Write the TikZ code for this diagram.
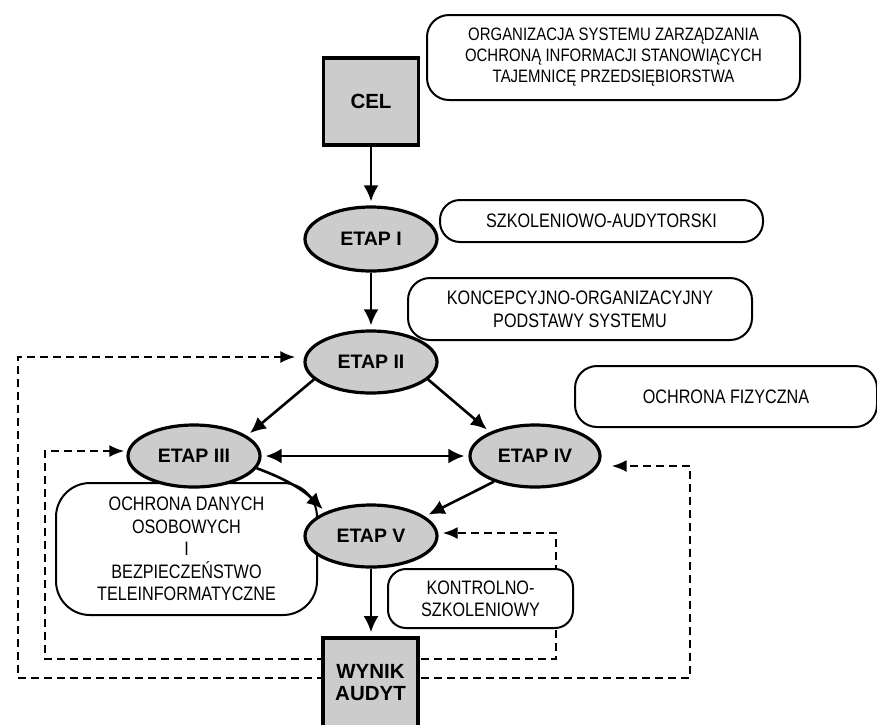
\documentclass[tikz,border=0pt]{standalone}
\usepackage{fontspec}
\setmainfont{Liberation Sans}
\newfontfamily\narrowfont{Liberation Sans}[FakeStretch=0.83]
\usetikzlibrary{shapes.geometric,arrows.meta,backgrounds}

\begin{document}
\begin{tikzpicture}[x=1pt,y=-1pt,
  stage/.style={ellipse,draw,line width=3.2pt,fill=gray!40,minimum width=132pt,
    minimum height=62pt,inner sep=0pt,font=\fontsize{19.5}{20}\selectfont\bfseries},
  endbox/.style={rectangle,draw,line width=3.6pt,fill=gray!40,minimum width=95pt,
    inner sep=0pt,align=center,font=\fontsize{20.5}{22}\selectfont\bfseries},
  note/.style={rectangle,draw,line width=2pt,fill=white,rounded corners=22pt,
    inner sep=0pt,align=center,font=\narrowfont\fontsize{19.5}{23}\selectfont},
  flow/.style={line width=2.6pt,shorten >=4pt,-{Latex[length=16pt,width=15pt]}},
  loop/.style={line width=2.4pt,dash pattern=on 8pt off 5pt,
    {Latex[length=15pt,width=12pt]}-{Latex[length=15pt,width=12pt]}}]

\useasboundingbox (0,0) rectangle (877,724);

% ===================== goal and result =====================
\node[endbox,minimum height=87pt] (cel) at (371,101.5) {CEL};
\node[endbox,minimum height=90pt] (wynik) at (370.5,683) {WYNIK\\AUDYT};

% ===================== descriptions =====================
\node[note,minimum width=373pt,minimum height=85pt,
  font=\narrowfont\fontsize{18}{21}\selectfont] (goal) at (613.5,57.5)
  {ORGANIZACJA SYSTEMU ZARZĄDZANIA\\OCHRONĄ INFORMACJI STANOWIĄCYCH\\TAJEMNICĘ PRZEDSIĘBIORSTWA};
\node[note,minimum width=323pt,minimum height=42pt,rounded corners=20pt] (szkol) at (601.5,221)
  {SZKOLENIOWO-AUDYTORSKI};
\node[note,minimum width=344pt,minimum height=62pt] (koncep) at (580,309)
  {KONCEPCYJNO-ORGANIZACYJNY\\PODSTAWY SYSTEMU};
\node[note,minimum width=302pt,minimum height=61pt] (fizyczna) at (726,396.5)
  {OCHRONA FIZYCZNA};
\node[note,minimum width=261pt,minimum height=132pt,rounded corners=34pt,
  font=\narrowfont\fontsize{19.5}{22.5}\selectfont] (danych) at (186.5,549)
  {OCHRONA DANYCH\\OSOBOWYCH\\I\\BEZPIECZEŃSTWO\\TELEINFORMATYCZNE};
\node[note,minimum width=185pt,minimum height=59pt,rounded corners=18pt,
  font=\narrowfont\fontsize{19.5}{22}\selectfont] (kontrol) at (480.5,598.5)
  {KONTROLNO-\\SZKOLENIOWY};

% ===================== stages =====================
\node[stage,minimum height=64pt] (etap1) at (371,239) {ETAP I};
\node[stage] (etap2) at (371,362) {ETAP II};
\node[stage] (etap3) at (194,456) {ETAP III};
\node[stage,minimum width=130pt] (etap4) at (535,456) {ETAP IV};
\node[stage] (etap5) at (371,536) {ETAP V};

% ---- main flow ----
\draw[flow] (cel.south) -- (etap1.north);
\draw[flow] (etap1.south) -- (etap2.north);
\draw[flow] (etap2.197) -- (etap3.21);
\draw[flow] (etap2.-17) -- (etap4.152);
\draw[line width=2.6pt,shorten >=4pt,shorten <=4pt,
  {Latex[length=16pt,width=15pt]}-{Latex[length=16pt,width=15pt]}] (etap3.east) -- (etap4.west);
\draw[flow] (etap3.-11) to[bend left=12] (etap5.152);
\draw[flow] (etap4.212) -- (etap5.20);
\draw[flow] (etap5.south) -- (etap5.south |- wynik.north);

% ---- feedback loops (behind the boxes) ----
\begin{scope}[on background layer]
  \draw[loop] ([xshift=-8pt,yshift=5pt]etap2.west) -| (18,678) -- (690,678)
    |- ([xshift=10pt,yshift=-10pt]etap4.east);
  \draw[loop] ([xshift=-2pt,yshift=5pt]etap3.west) -| (45,659) -- (556,659)
    |- ([xshift=4pt,yshift=3pt]etap5.east);
\end{scope}

\end{tikzpicture}
\end{document}
